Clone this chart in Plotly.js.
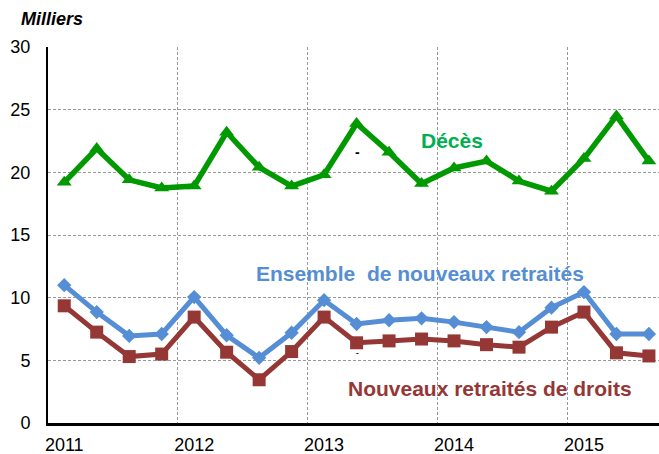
<!DOCTYPE html>
<html>
<head>
<meta charset="utf-8">
<script src="https://cdn.plot.ly/plotly-3.0.1.min.js"></script>
<style>html,body{margin:0;padding:0;background:#fff;}#chart{width:659px;height:454px;}</style>
</head>
<body>
<div id="chart"></div>
<script>
const quarters = ["2011T1","2011T2","2011T3","2011T4","2012T1","2012T2","2012T3","2012T4","2013T1","2013T2","2013T3","2013T4","2014T1","2014T2","2014T3","2014T4","2015T1","2015T2","2015T3"];
const yearLabels = ["2011","2012","2013","2014","2015"];
const deces = [19.2,21.9,19.4,18.75,18.9,23.2,20.4,18.9,19.8,23.9,21.6,19.1,20.35,20.9,19.3,18.5,21.1,24.5,20.9];
const ensemble = [11.0,8.85,6.95,7.1,10.05,7.0,5.2,7.2,9.8,7.9,8.2,8.35,8.05,7.65,7.25,9.2,10.45,7.1,7.1];
const droits = [9.35,7.25,5.3,5.5,8.45,5.65,3.45,5.7,8.45,6.4,6.55,6.7,6.55,6.25,6.05,7.65,8.85,5.6,5.35];

const idx = quarters.map((q,i)=>i);
const yearPos = yearLabels.map((y)=>quarters.indexOf(y+"T1"));
const boundaries = yearPos.slice(1).map(p=>p-0.5);

const traces = [
  {x: idx, y: deces, type:'scatter', mode:'lines+markers', name:'Décès',
   line:{color:'#009900', width:5.5}, marker:{symbol:'triangle-up', size:13, color:'#009900'}},
  {x: idx, y: ensemble, type:'scatter', mode:'lines+markers', name:'Ensemble de nouveaux retraités',
   line:{color:'#558ED5', width:5}, marker:{symbol:'diamond', size:11, color:'#558ED5'}},
  {x: idx, y: droits, type:'scatter', mode:'lines+markers', name:'Nouveaux retraités de droits',
   line:{color:'#953735', width:5}, marker:{symbol:'square', size:13, color:'#953735'}},
  {x: boundaries, y: boundaries.map(()=>null), xaxis:'x2', type:'scatter', mode:'markers', showlegend:false, hoverinfo:'skip'}
];

const font = {family:'Liberation Sans, Arial, sans-serif', color:'#000'};
const layout = {
  width:659, height:454,
  margin:{l:48, r:0, t:47, b:31},
  paper_bgcolor:'#fff', plot_bgcolor:'#fff',
  showlegend:false,
  font: font,
  xaxis:{range:[-0.5,18.31], tickvals:yearPos, ticktext:yearLabels, showgrid:false, zeroline:false,
    showline:true, linecolor:'#000', linewidth:2.5, ticks:'', ticklabelstandoff:4,
    tickfont:{family:font.family, size:18, color:'#000'}, fixedrange:true},
  xaxis2:{overlaying:'x', matches:'x', range:[-0.5,18.31], tickvals:boundaries, showticklabels:false, showgrid:true,
    gridcolor:'#999', gridwidth:1, griddash:'3px,2px', zeroline:false, showline:false, ticks:''},
  yaxis:{range:[0,30], dtick:5, tick0:0, showgrid:true, gridcolor:'#999', gridwidth:1, griddash:'3px,2px',
    zeroline:false, showline:true, linecolor:'#000', linewidth:2, ticks:'', ticklabelstandoff:12,
    tickfont:{family:font.family, size:18, color:'#000'}},
  annotations:[
    {text:'<b><i>Milliers</i></b>', xref:'paper', yref:'paper', x:-0.048, y:1.0, yshift:28, xanchor:'left', yanchor:'middle',
     showarrow:false, font:{family:font.family, size:18, color:'#000'}},
    {text:'<b>Décès</b>', xref:'paper', yref:'paper', x:(452-48)/611, y:(423-140)/376, xanchor:'center', yanchor:'middle',
     showarrow:false, font:{family:font.family, size:21, color:'#00B050'}},
    {text:'<b>Ensemble  de nouveaux retraités</b>', xref:'paper', yref:'paper', x:(420-48)/611, y:(423-273)/376, xanchor:'center', yanchor:'middle',
     showarrow:false, font:{family:font.family, size:21, color:'#558ED5'}},
    {text:'<b>Nouveaux retraités de droits</b>', xref:'paper', yref:'paper', x:(490-48)/611, y:(423-388)/376, xanchor:'center', yanchor:'middle',
     showarrow:false, font:{family:font.family, size:21, color:'#953735'}},
    {text:'<b>-</b>', xref:'paper', yref:'paper', x:(357-48)/611, y:(423-152)/376, xanchor:'center', yanchor:'middle',
     showarrow:false, font:{family:font.family, size:14, color:'#000'}},
    {text:'<b>-</b>', xref:'paper', yref:'paper', x:(357-48)/611, y:(423-352)/376, xanchor:'center', yanchor:'middle',
     showarrow:false, font:{family:font.family, size:8, color:'#000'}}
  ]
};
Plotly.newPlot('chart', traces, layout, {staticPlot:true, displayModeBar:false});
</script>
</body>
</html>
